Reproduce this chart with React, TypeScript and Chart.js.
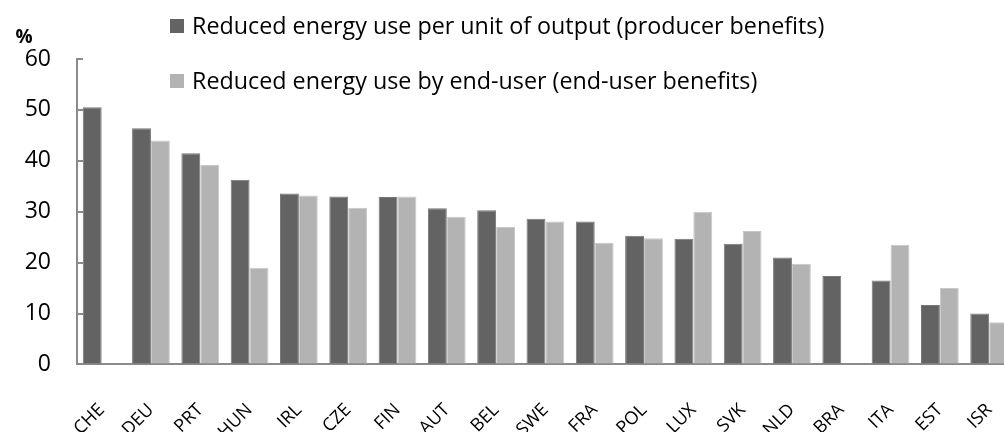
import React, { useEffect, useRef } from "react";
import { Chart, registerables } from "chart.js";

Chart.register(...registerables);

const categories = ["CHE", "DEU", "PRT", "HUN", "IRL", "CZE", "FIN", "AUT", "BEL", "SWE", "FRA", "POL", "LUX", "SVK", "NLD", "BRA", "ITA", "EST", "ISR"];
const producerBenefits = [50.5, 46.4, 41.5, 36.3, 33.6, 33.0, 32.9, 30.7, 30.3, 28.6, 28.1, 25.3, 24.7, 23.7, 21.0, 17.4, 16.5, 11.7, 10.0];
const endUserBenefits = [null, 44.0, 39.2, 19.0, 33.2, 30.8, 33.0, 29.0, 27.0, 28.1, 23.9, 24.8, 30.0, 26.2, 19.8, null, 23.5, 15.0, 8.3];
const seriesLabels = [
  "Reduced energy use per unit of output (producer benefits)",
  "Reduced energy use by end-user (end-user benefits)",
];
const yMin = 0;
const yMax = 60;
const yStep = 10;
const yUnit = "%";

const DARK = "#636363";
const LIGHT = "#b3b3b3";
const AXIS = "#8a8a8a";
const FONT = "'Open Sans', sans-serif";

const overlayPlugin = {
  id: "overlay",
  afterDraw(chart: any) {
    const ctx = chart.ctx;
    const y = chart.scales.y;
    ctx.save();
    // unit label
    ctx.fillStyle = "#000";
    ctx.font = `bold 19px ${FONT}`;
    ctx.textAlign = "center";
    ctx.textBaseline = "middle";
    ctx.fillText(yUnit, chart.chartArea.left - 53, y.top - 21);
    // legend
    const rows = [27, 82];
    chart.data.datasets.forEach((ds: any, i: number) => {
      const cy = rows[i];
      ctx.fillStyle = ds.backgroundColor;
      ctx.fillRect(170, cy - 8, 14, 14);
      ctx.fillStyle = "#000";
      ctx.font = `23.3px ${FONT}`;
      ctx.textAlign = "left";
      ctx.textBaseline = "middle";
      ctx.fillText(ds.label, 192, cy);
    });
    ctx.restore();
  },
};

export default function App() {
  const ref = useRef<HTMLCanvasElement | null>(null);
  useEffect(() => {
    if (!ref.current) return;
    const chart = new Chart(ref.current, {
      type: "bar",
      data: {
        labels: categories,
        datasets: [
          {
            label: seriesLabels[0],
            data: producerBenefits,
            backgroundColor: DARK,
            borderColor: "#777777",
            borderWidth: 1,
            categoryPercentage: 0.766,
            barPercentage: 1.0,
          },
          {
            label: seriesLabels[1],
            data: endUserBenefits as any,
            backgroundColor: LIGHT,
            borderColor: "#c8c8c8",
            borderWidth: 1,
            categoryPercentage: 0.766,
            barPercentage: 1.0,
          },
        ],
      },
      options: {
        responsive: false,
        animation: false,
        devicePixelRatio: 1,
        layout: { padding: { top: 59, left: 25, right: 21, bottom: -46 } },
        plugins: { legend: { display: false }, tooltip: { enabled: false } },
        scales: {
          x: {
            offset: true,
            grid: { display: false, drawTicks: false, tickLength: 0 },
            border: { display: true, color: AXIS, width: 2 },
            ticks: {
              autoSkip: false,
              minRotation: 45,
              maxRotation: 45,
              padding: 35,
              color: "#000",
              font: { family: FONT, size: 18 },
            },
          },
          y: {
            min: yMin,
            max: yMax,
            grid: { drawOnChartArea: false, drawTicks: true, tickLength: -6, color: AXIS, lineWidth: 2 },
            border: { display: true, color: AXIS, width: 2 },
            ticks: {
              stepSize: yStep,
              padding: 32,
              color: "#000",
              font: { family: FONT, size: 23 },
            },
            afterFit: (s: any) => {
              s.width = 52;
            },
          },
        },
      },
      plugins: [overlayPlugin],
    });
    return () => chart.destroy();
  }, []);
  return (
    <div style={{ position: "absolute", left: 0, top: 0, width: 1004, height: 432, overflow: "hidden", background: "#fff" }}>
      <canvas ref={ref} width={1040} height={432} style={{ display: "block", width: 1040, height: 432 }} />
    </div>
  );
}
